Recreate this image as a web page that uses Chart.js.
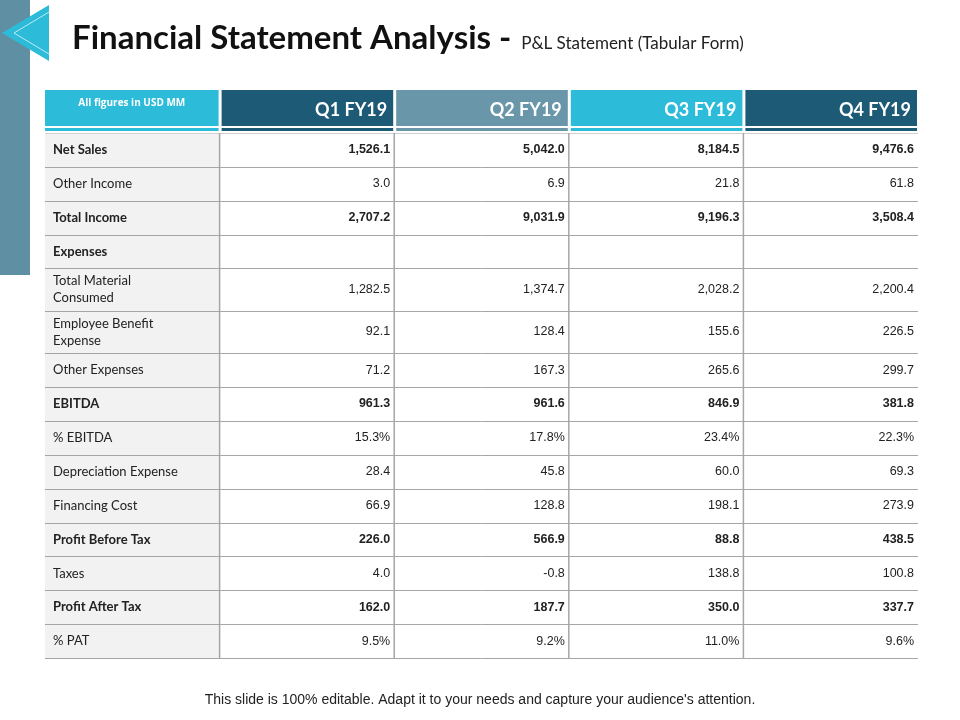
<!DOCTYPE html>
<html>
<head>
<meta charset="utf-8">
<script src="https://cdn.jsdelivr.net/npm/chart.js@4.4.1/dist/chart.umd.min.js"></script>
<style>
  html,body{margin:0;padding:0;background:#fff;}
  #wrap{width:960px;height:720px;position:relative;}
</style>
</head>
<body>
<div id="wrap"><canvas id="tbl" width="960" height="720"></canvas></div>
<script>
/* ---------------- data ---------------- */
const titleMain = "Financial Statement Analysis -";
const titleSub = "P&L Statement (Tabular Form)";
const cornerLabel = "All figures in USD MM";
const quarters = ["Q1 FY19","Q2 FY19","Q3 FY19","Q4 FY19"];
const rowLabels = [
  "Net Sales","Other Income","Total Income","Expenses",
  "Total Material\nConsumed","Employee Benefit\nExpense","Other Expenses",
  "EBITDA","% EBITDA","Depreciation Expense","Financing Cost",
  "Profit Before Tax","Taxes","Profit After Tax","% PAT"
];
const boldRows = ["Net Sales","Total Income","Expenses","EBITDA","Profit Before Tax","Profit After Tax"];
const q1 = ["1,526.1","3.0","2,707.2","","1,282.5","92.1","71.2","961.3","15.3%","28.4","66.9","226.0","4.0","162.0","9.5%"];
const q2 = ["5,042.0","6.9","9,031.9","","1,374.7","128.4","167.3","961.6","17.8%","45.8","128.8","566.9","-0.8","187.7","9.2%"];
const q3 = ["8,184.5","21.8","9,196.3","","2,028.2","155.6","265.6","846.9","23.4%","60.0","198.1","88.8","138.8","350.0","11.0%"];
const q4 = ["9,476.6","61.8","3,508.4","","2,200.4","226.5","299.7","381.8","22.3%","69.3","273.9","438.5","100.8","337.7","9.6%"];
const footer = "This slide is 100% editable. Adapt it to your needs and capture your audience's attention.";

/* ---------------- layout helpers ---------------- */
const columns = [q1,q2,q3,q4];
const headColors = ["#1c5a76","#6996a9","#2cbcd9","#1c5a76"];
const cornerColor = "#2cbcd9";

// row boundaries in scale units: single line = 1, two lines = 1.25
const rowEdges = [0];
rowLabels.forEach(l => rowEdges.push(rowEdges[rowEdges.length-1] + (l.includes("\n") ? 1.25 : 1)));
const totalUnits = rowEdges[rowEdges.length-1];

const tablePlugin = {
  id:"tablePlugin",
  beforeDraw(chart){
    const ctx = chart.ctx, xs = chart.scales.x, ys = chart.scales.y;
    const X = v => xs.getPixelForValue(v), Y = v => ys.getPixelForValue(v);
    ctx.save();
    ctx.fillStyle="#fff"; ctx.fillRect(0,0,chart.width,chart.height);

    // decoration left
    ctx.fillStyle="#5e8fa3"; ctx.fillRect(0,0,30,275);
    ctx.fillStyle="#fff"; ctx.fillRect(30,0,31,62);
    ctx.beginPath(); ctx.moveTo(2,33); ctx.lineTo(49,5); ctx.lineTo(49,61); ctx.closePath();
    ctx.fillStyle="#2cbcd9"; ctx.fill();
    ctx.beginPath(); ctx.moveTo(14,33); ctx.lineTo(49,12); ctx.moveTo(14,33); ctx.lineTo(49,54);
    ctx.strokeStyle="#bfeaf3"; ctx.lineWidth=1; ctx.stroke();

    // title
    ctx.fillStyle="#111"; ctx.textBaseline="alphabetic"; ctx.textAlign="left";
    ctx.font="bold 33px Lato, 'DejaVu Sans', sans-serif";
    ctx.fillText(titleMain,72,49);
    const tw = ctx.measureText(titleMain).width;
    ctx.font="17px Lato, 'DejaVu Sans', sans-serif";
    ctx.fillStyle="#222";
    ctx.fillText(titleSub,72+tw+10,49);

    // header row
    const hTop = 90, hBot = 126;
    const heads = [cornerLabel].concat(quarters);
    heads.forEach((h,i)=>{
      const l = X(i) + (i?2:0), r = X(i+1) - 1;
      const c = i ? headColors[i-1] : cornerColor;
      ctx.fillStyle=c; ctx.fillRect(l,hTop,r-l,hBot-hTop);
      ctx.fillRect(l,hBot+2,r-l,3);
      ctx.fillStyle="#fff";
      if(i===0){
        ctx.font="bold 10px 'Open Sans', sans-serif"; ctx.textAlign="center";
        ctx.fillText(h,(l+r)/2,106);
      } else {
        ctx.font="bold 18px Lato, 'DejaVu Sans', sans-serif"; ctx.textAlign="right";
        ctx.fillText(h,r-6,116);
      }
    });

    // label column background
    ctx.fillStyle="#f2f2f2"; ctx.fillRect(X(0),Y(0),X(1)-X(0),Y(totalUnits)-Y(0));

    // cells
    rowLabels.forEach((lab,ri)=>{
      const t = Y(rowEdges[ri]), b = Y(rowEdges[ri+1]), mid=(t+b)/2;
      const bold = boldRows.includes(lab);
      ctx.fillStyle="#222"; ctx.textAlign="left"; ctx.textBaseline="middle";
      ctx.font=(bold?"bold ":"")+"13px Lato, 'Open Sans', sans-serif";
      const lines = lab.split("\n");
      lines.forEach((ln,k)=>ctx.fillText(ln,X(0)+8,mid+(k-(lines.length-1)/2)*17));
      ctx.font=(bold?"bold ":"")+"12.5px 'Liberation Sans', Arial, sans-serif";
      ctx.textAlign="right";
      columns.forEach((col,ci)=>ctx.fillText(col[ri],X(ci+2)-4,mid));
      // row line
      ctx.strokeStyle="#a6a6a6"; ctx.lineWidth=1;
      ctx.beginPath(); ctx.moveTo(X(0),Math.round(b)+0.5); ctx.lineTo(X(5),Math.round(b)+0.5); ctx.stroke();
    });
    // top line + verticals
    ctx.strokeStyle="#d0d0d0";
    ctx.beginPath(); ctx.moveTo(X(0),Y(0)+0.5); ctx.lineTo(X(5),Y(0)+0.5); ctx.stroke();
    ctx.strokeStyle="#a6a6a6"; ctx.lineWidth=1.5;
    for(let i=1;i<5;i++){
      ctx.beginPath(); ctx.moveTo(X(i),Y(0)); ctx.lineTo(X(i),Y(totalUnits)); ctx.stroke();
    }

    // footer
    ctx.fillStyle="#222"; ctx.textAlign="center"; ctx.textBaseline="alphabetic";
    ctx.font="14px 'Liberation Sans', Arial, sans-serif";
    ctx.fillText(footer,480,704);
    ctx.restore();
  }
};

new Chart(document.getElementById("tbl"),{
  type:"scatter",
  data:{datasets:[{data:[]}]},
  options:{
    responsive:false, animation:false,
    layout:{padding:{left:45,right:42,top:133,bottom:62}},
    plugins:{legend:{display:false},tooltip:{enabled:false}},
    scales:{
      x:{type:"linear",min:0,max:5,display:false},
      y:{type:"linear",min:0,max:totalUnits,reverse:true,display:false}
    }
  },
  plugins:[tablePlugin]
});
</script>
</body>
</html>
